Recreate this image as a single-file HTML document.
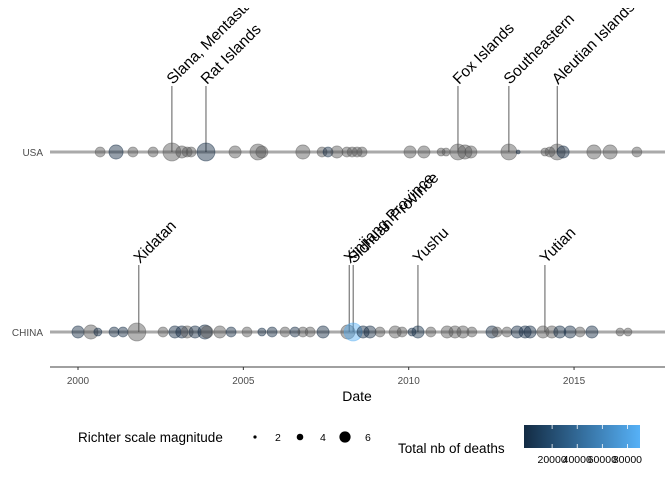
<!DOCTYPE html>
<html><head><meta charset="utf-8"><style>
html,body{margin:0;padding:0;background:#fff;}
svg{display:block;font-family:"Liberation Sans",Arial,sans-serif;}
</style></head><body>
<svg id="chart" width="672" height="480" viewBox="0 0 672 480">
<defs>
<clipPath id="panelClip"><rect x="50" y="8" width="622" height="362"/></clipPath>
<linearGradient id="deathGrad" x1="0" x2="1" y1="0" y2="0">
<stop offset="0" stop-color="#132B43"/><stop offset="1" stop-color="#56B1F7"/>
</linearGradient>
</defs>
<g id="panel" clip-path="url(#panelClip)"></g>
<g id="axes"></g>
<g id="legend"></g>
</svg>
<script>
// ---- data ----
const countries = ["USA", "CHINA"];
const usaYears = [2000.67,2001.15,2001.66,2002.27,2002.84,2003.14,2003.30,2003.42,2003.87,2004.75,2005.44,2005.56,2006.80,2007.38,2007.56,2007.83,2008.13,2008.29,2008.44,2008.59,2010.04,2010.46,2010.98,2011.13,2011.49,2011.70,2011.88,2013.03,2013.31,2014.12,2014.27,2014.49,2014.67,2015.60,2016.09,2016.90];
const usaMag = [6.1,7.4,6.1,6.1,8.4,6.8,6.1,6.1,8.4,6.8,7.9,6.8,7.4,6.1,6.1,6.8,6.1,6.1,6.1,6.1,6.8,6.8,5.4,5.4,7.9,7.4,6.8,7.9,3.5,5.4,6.1,7.9,6.8,7.4,7.4,6.1];
const usaDeaths = [null,10,null,null,null,null,null,null,5,null,null,null,null,null,3,null,null,null,null,null,null,null,null,null,null,null,null,null,1,null,null,null,2,null,null,null];
const chinaYears = [2000.00,2000.39,2000.60,2001.09,2001.36,2001.78,2002.57,2002.93,2003.14,2003.30,2003.54,2003.84,2003.90,2004.29,2004.63,2005.11,2005.56,2005.87,2006.26,2006.56,2006.80,2007.02,2007.41,2008.16,2008.32,2008.62,2008.83,2009.13,2009.59,2009.80,2010.10,2010.28,2010.67,2011.16,2011.40,2011.64,2011.91,2012.52,2012.67,2012.97,2013.28,2013.52,2013.67,2014.06,2014.33,2014.57,2014.88,2015.18,2015.54,2016.39,2016.63];
const chinaMag = [6.8,7.4,5.4,6.1,6.1,8.4,6.1,6.8,6.8,6.8,6.8,7.4,6.8,6.8,6.1,6.1,5.4,6.1,6.1,6.1,6.1,6.1,6.8,7.4,8.4,6.8,6.8,6.1,6.8,6.1,5.4,6.8,6.1,6.8,6.8,6.8,6.1,6.8,6.1,6.1,6.8,6.8,6.8,6.8,6.8,6.8,6.8,6.1,6.8,5.4,5.4];
const chinaDeaths = [5,null,2,3,3,null,null,10,260,null,5,20,null,null,3,null,2,3,null,3,null,null,5,null,87000,10,20,null,null,null,5,2700,null,null,null,null,null,80,null,null,100,300,20,null,null,600,10,null,5,null,null];
const usaLabels = ["Slana, Mentasta","Rat Islands","Fox Islands","Southeastern","Aleutian Islands"];
const usaLabelYears = [2002.84,2003.87,2011.49,2013.03,2014.49];
const chinaLabels = ["Xidatan","Xinjiang Province","Sichuan Province","Yushu","Yutian"];
const chinaLabelYears = [2001.84,2008.20,2008.32,2010.28,2014.12];
const xTicks = [2000,2005,2010,2015];
const sizeLegendMags = [2,4,6];
const colorTicks = [20000,40000,60000,80000];

// ---- scales ----
const NS="http://www.w3.org/2000/svg";
function x(y){return 78+(y-2000)*33.07;}
const rowY={USA:152,CHINA:332};
function r(m){return 0.12*m*m+0.5;}
function lerp(a,b,t){return Math.round(a+(b-a)*t);}
function col(d){const t=Math.max(0,Math.min(1,d/90000));
return `rgb(${lerp(0x13,0x56,t)},${lerp(0x2B,0xB1,t)},${lerp(0x43,0xF7,t)})`;}
function cx(d){return 527+d/90000*113;}
function mk(tag,attrs,parent,text){const e=document.createElementNS(NS,tag);for(const k in attrs)e.setAttribute(k,attrs[k]);if(text!==undefined)e.textContent=text;parent.appendChild(e);return e;}

const panel=document.getElementById('panel');
const axes=document.getElementById('axes');
const legend=document.getElementById('legend');

function drawRow(country,years,mags,deaths,labels,labelYears,top){
  const y0=rowY[country];
  const ln=mk('line',{x1:50,x2:665,y1:y0,y2:y0,stroke:'#aaaaaa','stroke-width':3},panel);
  
  
  labelYears.forEach((ly,i)=>{
    const l=mk('line',{x1:x(ly),x2:x(ly),y1:top,y2:y0,stroke:'#333','stroke-width':0.8},panel);
    
    
  });
  years.forEach((yr,i)=>{
    const d=deaths[i];
    const c=mk('circle',{cx:x(yr),cy:y0,r:r(mags[i]),fill:d===null?'#555555':col(d),'fill-opacity':0.45,stroke:d===null?'#555555':col(d),'stroke-opacity':0.5,'stroke-width':0.8},panel);
    
    
  });
  labelYears.forEach((ly,i)=>{
    const tx=x(ly)+1, ty=top-1;
    const t=mk('text',{x:tx,y:ty,'font-size':15.5,fill:'#000',transform:`rotate(-45 ${tx} ${ty})`},panel,labels[i]);
    
    
  });
}
drawRow('USA',usaYears,usaMag,usaDeaths,usaLabels,usaLabelYears,86);
drawRow('CHINA',chinaYears,chinaMag,chinaDeaths,chinaLabels,chinaLabelYears,265);

// axes
countries.forEach(c=>{
  const t=mk('text',{x:43,y:rowY[c]+4,'font-size':10,fill:'#4d4d4d','text-anchor':'end'},axes,c);
  
  
});
const xl=mk('line',{x1:50,x2:665,y1:367,y2:367,stroke:'#000','stroke-width':0.8},axes);


xTicks.forEach(v=>{
  const tk=mk('line',{x1:x(v),x2:x(v),y1:367,y2:370,stroke:'#333'},axes);
  
  
  const t=mk('text',{x:x(v),y:384,'font-size':10,fill:'#4d4d4d','text-anchor':'middle'},axes,v);
  
  
});
const xt=mk('text',{x:357,y:401,'font-size':14,fill:'#000','text-anchor':'middle'},axes,'Date');



// size legend
const st=mk('text',{x:78,y:442,'font-size':13.5,fill:'#000'},legend,'Richter scale magnitude');


sizeLegendMags.forEach((m,i)=>{
  const px=255+i*45;
  const c=mk('circle',{cx:px,cy:437,r:[1.6,3.3,5.6][i],fill:'#000'},legend);
  
  
  const t=mk('text',{x:px+20,y:441,'font-size':10.5,fill:'#000'},legend,m);
  
  
});
// color legend
const ct=mk('text',{x:398,y:453,'font-size':13.5,fill:'#000'},legend,'Total nb of deaths');


const bar=mk('rect',{x:524,y:425,width:116,height:23,fill:'url(#deathGrad)'},legend);


colorTicks.forEach(v=>{
  const tx=cx(v);
  mk('line',{x1:tx,x2:tx,y1:425,y2:429,stroke:'#fff','stroke-width':0.8},legend);
  mk('line',{x1:tx,x2:tx,y1:444,y2:448,stroke:'#fff','stroke-width':0.8},legend);
  const t=mk('text',{x:tx,y:463,'font-size':10.5,fill:'#000','text-anchor':'middle'},legend,v);
  
  
});
</script>
</body></html>
